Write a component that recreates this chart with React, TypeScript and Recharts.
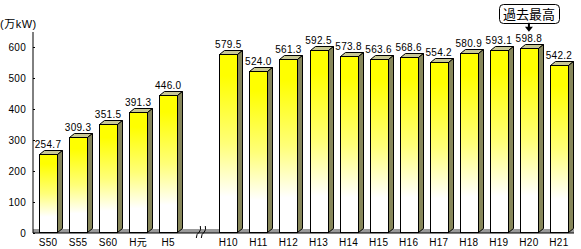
import React from "react";
import {
  BarChart,
  Bar,
  XAxis,
  YAxis,
  LabelList,
  ReferenceArea,
  ReferenceDot,
} from "recharts";

const categories = [
  "S50", "S55", "S60", "H元", "H5", "",
  "H10", "H11", "H12", "H13", "H14", "H15", "H16", "H17", "H18", "H19", "H20", "H21",
];
const values: (number | null)[] = [
  254.7, 309.3, 351.5, 391.3, 446.0, null,
  579.5, 524.0, 561.3, 592.5, 573.8, 563.6, 568.6, 554.2, 580.9, 593.1, 598.8, 542.2,
];
const yTicks = [0, 100, 200, 300, 400, 500, 600];
const yMax = 650;
const floorDepth = 13;
const unitLabel = "(万kW)";
const recordLabel = "過去最高";

const data = categories.map((label, i) => ({ label, value: values[i] }));

let maxIdx = 0;
values.forEach((v, i) => {
  if (v != null && v > (values[maxIdx] ?? -Infinity)) maxIdx = i;
});

const FONT = "'Liberation Sans', 'Noto Sans CJK JP', Arial, sans-serif";
const TICK_MARGIN = 7;

const Bar3D = (props: any) => {
  const { x, y, width, height } = props;
  if (height == null || height <= 0) return null;
  const dx = 5;
  const dy = 4;
  const X = Math.round(x) + 0.5;
  const Y = Math.round(y) + 0.5;
  const W = Math.round(width);
  const B = Math.round(y + height) - 0.5;
  return (
    <g>
      <path
        d={`M${X},${Y} L${X + dx},${Y - dy} L${X + W + dx},${Y - dy} L${X + W},${Y} Z`}
        fill="#c8c894"
        stroke="#000"
        strokeWidth={1}
      />
      <path
        d={`M${X + W},${Y} L${X + W + dx},${Y - dy} L${X + W + dx},${B - dy} L${X + W},${B} Z`}
        fill="#86865a"
        stroke="#000"
        strokeWidth={1}
      />
      <rect x={X} y={Y} width={W} height={B - Y} fill="url(#barGrad)" stroke="#000" strokeWidth={1} />
    </g>
  );
};

const XTick = (props: any) => {
  const { x, y, payload } = props;
  if (payload.value === "") {
    const base = y - TICK_MARGIN + 1;
    const cx = x + 3;
    const wave = (ox: number) =>
      `M${cx + ox - 3},${base + 5} Q${cx + ox - 3},${base + 1} ${cx + ox},${base - 1} Q${cx + ox + 2},${base - 3} ${cx + ox + 1},${base - 7}`;
    return (
      <g>
        <path d={wave(-2)} stroke="#000" fill="none" strokeWidth={1} />
        <path d={wave(3)} stroke="#000" fill="none" strokeWidth={1} />
      </g>
    );
  }
  return (
    <text x={x} y={y} dy="0.71em" textAnchor="middle" fontSize={10} fontFamily={FONT} fill="#000" letterSpacing={0.3}>
      {payload.value}
    </text>
  );
};

const YTick = (props: any) => {
  const { x, y, payload } = props;
  return (
    <g>
      <text x={x} y={y} dy="0.355em" textAnchor="end" fontSize={10} fontFamily={FONT} fill="#000" letterSpacing={0.3}>
        {payload.value}
      </text>
      <line x1={x + TICK_MARGIN} x2={x + TICK_MARGIN + 2} y1={Math.round(y) + 0.5} y2={Math.round(y) + 0.5} stroke="#000" />
    </g>
  );
};

const UnitLabel = (props: any) => {
  const { viewBox } = props;
  return (
    <text x={0} y={viewBox.y - 8} dy="0.355em" textAnchor="start" fontSize={11} fontFamily={FONT} fill="#000" letterSpacing={0.5}>
      {unitLabel}
    </text>
  );
};

const Annotation = (props: any) => {
  const { cx, cy } = props;
  const bx = cx - 30;
  const by = cy - 44;
  return (
    <g>
      <rect x={Math.round(bx) + 0.5} y={Math.round(by) + 0.5} width={60} height={19} rx={4} ry={4} fill="#fff" stroke="#000" />
      <text x={cx} y={by + 10} dy="0.36em" textAnchor="middle" fontSize={13} fontFamily={FONT} fill="#000">
        {recordLabel}
      </text>
      <rect x={cx - 1} y={cy - 25} width={2} height={5} fill="#000" />
      <path d={`M${cx - 4},${cy - 21} L${cx + 4},${cy - 21} L${cx},${cy - 16} Z`} fill="#000" />
    </g>
  );
};

export default function App() {
  return (
    <div style={{ position: "absolute", left: 0, top: 0 }}>
      <BarChart
        width={581}
        height={249}
        data={data}
        margin={{ top: 32, right: 7, bottom: 0, left: 0 }}
        barCategoryGap={0}
      >
        <defs>
          <linearGradient id="barGrad" x1="0" y1="0" x2="0" y2="1">
            <stop offset="0" stopColor="#ffff00" />
            <stop offset="0.12" stopColor="#ffff00" />
            <stop offset="0.5" stopColor="#ffff78" />
            <stop offset="0.8" stopColor="#ffffff" />
            <stop offset="1" stopColor="#ffffff" />
          </linearGradient>
        </defs>
        <ReferenceArea y1={0} y2={floorDepth} fill="#9a9a9a" fillOpacity={1} stroke="none" ifOverflow="visible" />
        <XAxis
          dataKey="label"
          interval={0}
          height={16}
          tickLine={false}
          tickSize={0}
          tickMargin={TICK_MARGIN - 1}
          axisLine={{ stroke: "#000", strokeWidth: 1 }}
          tick={<XTick />}
        />
        <YAxis
          domain={[0, yMax]}
          ticks={yTicks}
          width={33}
          tickLine={false}
          tickSize={0}
          tickMargin={TICK_MARGIN}
          axisLine={{ stroke: "#000", strokeWidth: 1 }}
          tick={<YTick />}
          allowDataOverflow
          label={<UnitLabel />}
        />
        <Bar dataKey="value" barSize={18} isAnimationActive={false} shape={<Bar3D />}>
          <LabelList
            dataKey="value"
            position="top"
            offset={6}
            formatter={(v: any) => (v == null ? "" : Number(v).toFixed(1))}
            style={{ fontSize: 10, fontFamily: FONT, fill: "#000", letterSpacing: 0.3 }}
          />
        </Bar>
        <ReferenceDot
          x={categories[maxIdx]}
          y={values[maxIdx] as number}
          r={0}
          ifOverflow="visible"
          shape={<Annotation />}
        />
      </BarChart>
    </div>
  );
}
